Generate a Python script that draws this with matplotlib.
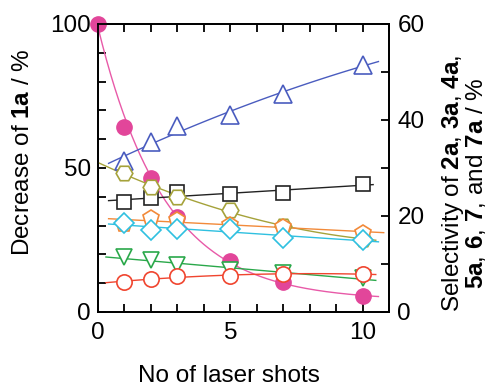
import numpy as np
import matplotlib
matplotlib.use("Agg")
import matplotlib.pyplot as plt
from matplotlib.ticker import MultipleLocator

plt.rcParams['font.family'] = ['Liberation Sans', 'DejaVu Sans']
plt.rcParams['mathtext.fontset'] = 'custom'
plt.rcParams['mathtext.rm'] = 'Liberation Sans'
plt.rcParams['mathtext.bf'] = 'Liberation Sans:bold'

shots = [0, 1, 2, 3, 5, 7, 10]
decrease_1a = [100, 64.2, 46.5, 33.0, 17.7, 10.4, 5.6]

shots_s = [1, 2, 3, 5, 7, 10]
sel_tri = [31.5, 35.5, 38.8, 41.0, 45.4, 51.5]      # blue triangles
sel_sq = [22.9, 23.8, 25.0, 24.6, 24.7, 26.7]       # black squares
sel_hex = [29.0, 26.1, 24.0, 21.2, 17.9, 15.2]      # olive hexagons
sel_pent = [18.3, 19.6, 19.2, 18.1, 17.7, 16.5]     # orange pentagons
sel_dia = [18.5, 17.1, 17.3, 17.3, 15.5, 14.9]      # cyan diamonds
sel_vtri = [11.5, 10.8, 9.8, 8.75, 8.2, 7.1]        # green inverted triangles
sel_circ = [6.3, 6.8, 7.5, 7.5, 7.9, 7.9]           # red open circles

FS = 17.5

fig = plt.figure(figsize=(4.91, 3.87), dpi=100)
ax = fig.add_axes([0.1996, 0.194, 0.5927, 0.744])
ax2 = ax.twinx()

# Pink exponential fit
x = np.array(shots, float); y = np.array(decrease_1a, float)
best = None
for c in np.linspace(0, 5, 101):
    k, lna = np.polyfit(x, np.log(y - c + 1e-9), 1)
    pred = np.exp(lna) * np.exp(k * x) + c
    err = np.sum((pred - y) ** 2)
    if best is None or err < best[0]:
        best = (err, c, k, lna)
_, c, k, lna = best
xf = np.linspace(0, 10.6, 200)
ax.plot(xf, np.exp(lna) * np.exp(k * xf) + c, color='#e85aa8', lw=1.0, zorder=2)
ax.plot(shots, decrease_1a, 'o', color='#e2469a', ms=11, zorder=3, clip_on=False)

series = [
    (sel_tri, '^', '#4a5cbf', 2, (0.4, 10.6), 13),
    (sel_sq, 's', '#222222', 1, (0.4, 10.4), 10),
    (sel_hex, 'H', '#a5a23a', 2, (0.0, 10.5), 12),
    (sel_pent, 'p', '#f28a3a', 1, (0.4, 10.8), 12),
    (sel_dia, 'D', '#2fc0e0', 1, (0.4, 10.6), 10),
    (sel_vtri, 'v', '#2aa84a', 1, (0.3, 10.5), 12),
    (sel_circ, 'o', '#f0452f', 2, (0.3, 10.5), 11),
]
xs = np.array(shots_s, float)
for vals, m, col, deg, (x0, x1), ms in series:
    p = np.polyfit(xs, vals, deg)
    xx = np.linspace(x0, x1, 100)
    ax2.plot(xx, np.polyval(p, xx), color=col, lw=1.0, zorder=2)
    ax2.plot(xs, vals, m, color=col, mfc='white', mec=col, mew=1.2, ms=ms, zorder=3)

ax.set_xlim(0, 11)
ax.set_ylim(0, 100)
ax2.set_ylim(0, 60)
ax.xaxis.set_major_locator(MultipleLocator(5))
ax.xaxis.set_minor_locator(MultipleLocator(1))
ax.yaxis.set_major_locator(MultipleLocator(50))
ax.yaxis.set_minor_locator(MultipleLocator(10))
ax2.yaxis.set_major_locator(MultipleLocator(20))
ax2.yaxis.set_minor_locator(MultipleLocator(10))

for a in (ax, ax2):
    for s in a.spines.values():
        s.set_linewidth(1.3)
ax.tick_params(which='both', direction='in', top=True, labelsize=FS, width=1.3, length=6)
ax.tick_params(axis='x', which='both', pad=7)
ax.tick_params(axis='y', which='both', pad=5)
ax2.tick_params(which='both', direction='in', labelsize=FS, width=1.3, length=6, pad=6)

fig.text(0.466, 0.028, 'No of laser shots', fontsize=FS, ha='center', va='center')
fig.text(0.0468, 0.606, r'Decrease of $\mathbf{1a}$ / %', fontsize=FS,
         ha='center', va='center', rotation=90)
fig.text(0.945, 0.527,
         'Selectivity of $\\mathbf{2a}$, $\\mathbf{3a}$, $\\mathbf{4a}$,\n'
         '$\\mathbf{5a}$, $\\mathbf{6}$, $\\mathbf{7}$, and $\\mathbf{7a}$ / %',
         fontsize=FS, ha='center', va='center', rotation=90, linespacing=0.9,
         multialignment='center')

fig.savefig('out.png', dpi=100)
